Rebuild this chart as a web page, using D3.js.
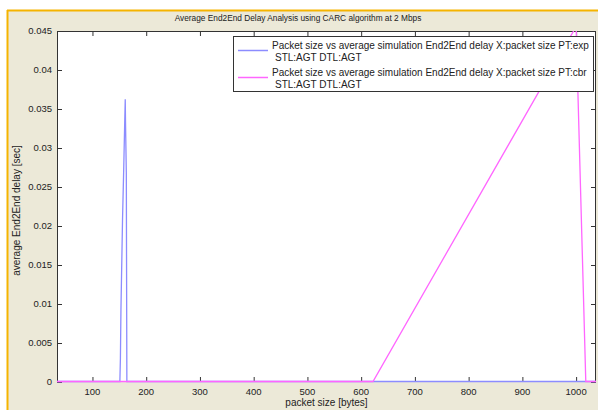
<!DOCTYPE html>
<html>
<head>
    <title>Average End2End Delay Analysis</title>
    <script src="https://d3js.org/d3.v7.min.js"></script>
    <style>
        body { margin: 0; background: #fff; }
        text { font-family: "Liberation Sans", Arial, sans-serif; }
    </style>
</head>
<body>
    <svg width="598" height="410"></svg>
    <script>
        // packet size [bytes] vs delay [sec]
        const packetSizeExp = [34, 151, 152, 153, 156, 158, 160, 161, 161.5, 163, 164, 1037];
        const delayExp      = [0, 0, 0.003, 0.0092, 0.021, 0.0268, 0.0332, 0.0362, 0.0332, 0.0268, 0, 0];

        const packetSizeCbr = [34, 622, 1000, 1018, 1037];
        const delayCbr      = [0, 0, 0.0455, 0, 0];

        const xTicks = [100, 200, 300, 400, 500, 600, 700, 800, 900, 1000];
        const yTicks = [0, 0.005, 0.01, 0.015, 0.02, 0.025, 0.03, 0.035, 0.04, 0.045];

        const legendLabels = [
            ["Packet size vs average simulation End2End delay X:packet size PT:exp", "STL:AGT DTL:AGT"],
            ["Packet size vs average simulation End2End delay X:packet size PT:cbr", "STL:AGT DTL:AGT"]
        ];
        const colors = ["#8c8cff", "#ff66ff"];

        const svg = d3.select("svg");
        const pLeft = 57, pRight = 596, pTop = 31, pBottom = 382;

        // figure window background + orange border
        svg.append("rect").attr("x", 8).attr("y", 11).attr("width", 590).attr("height", 399).attr("fill", "#ece9d8");
        svg.append("line").attr("x1", 7.5).attr("x2", 7.5).attr("y1", 10).attr("y2", 410)
           .attr("stroke", "#f5b400").attr("stroke-width", 2);
        svg.append("line").attr("x1", 7).attr("x2", 598).attr("y1", 10.5).attr("y2", 10.5)
           .attr("stroke", "#f5b400").attr("stroke-width", 2);

        const x = d3.scaleLinear().domain([34, 1037]).range([pLeft, pRight]);
        const y = d3.scaleLinear().domain([0, 0.045]).range([pBottom, pTop]);

        svg.append("rect").attr("x", pLeft).attr("y", pTop)
           .attr("width", pRight - pLeft).attr("height", pBottom - pTop).attr("fill", "#fff");

        // clip slightly below the x axis so the zero lines sit on top of it
        svg.append("clipPath").attr("id", "clip").append("rect")
           .attr("x", pLeft).attr("y", pTop).attr("width", pRight - pLeft).attr("height", pBottom - pTop + 2);

        // ticks pointing inwards, box on
        const tickLen = 5;
        svg.append("g").attr("transform", `translate(0,${pBottom})`)
           .call(d3.axisTop(x).tickValues(xTicks).tickSize(tickLen).tickFormat(""))
           .call(g => g.select(".domain").remove());
        svg.append("g").attr("transform", `translate(0,${pTop})`)
           .call(d3.axisBottom(x).tickValues(xTicks).tickSize(tickLen).tickFormat(""))
           .call(g => g.select(".domain").remove());
        svg.append("g").attr("transform", `translate(${pLeft},0)`)
           .call(d3.axisRight(y).tickValues(yTicks).tickSize(tickLen).tickFormat(""))
           .call(g => g.select(".domain").remove());
        svg.append("g").attr("transform", `translate(${pRight},0)`)
           .call(d3.axisLeft(y).tickValues(yTicks).tickSize(tickLen).tickFormat(""))
           .call(g => g.select(".domain").remove());
        svg.selectAll(".tick line").attr("stroke", "#333");

        // box
        svg.append("rect").attr("x", pLeft + 0.5).attr("y", pTop + 0.5)
           .attr("width", pRight - pLeft - 1).attr("height", pBottom - pTop - 1)
           .attr("fill", "none").attr("stroke", "#333");

        // tick labels
        svg.append("g").selectAll("text").data(xTicks).enter().append("text")
           .attr("x", d => x(d)).attr("y", pBottom + 13)
           .attr("text-anchor", "middle").attr("font-size", 9.5).attr("fill", "#222")
           .text(d => d);
        svg.append("g").selectAll("text").data(yTicks).enter().append("text")
           .attr("x", pLeft - 5).attr("y", d => y(d) + 3)
           .attr("text-anchor", "end").attr("font-size", 9.5).attr("fill", "#222")
           .text(d => d);

        // series
        const line = d3.line().x(d => x(d[0])).y(d => y(d[1]) - 0.5);
        const plot = svg.append("g").attr("clip-path", "url(#clip)");
        plot.append("path").datum(packetSizeExp.map((p, i) => [p, delayExp[i]]))
            .attr("d", line).attr("fill", "none").attr("stroke", colors[0]).attr("stroke-width", 1.3);
        plot.append("path").datum(packetSizeCbr.map((p, i) => [p, delayCbr[i]]))
            .attr("d", line).attr("fill", "none").attr("stroke", colors[1]).attr("stroke-width", 1.3);

        // legend
        const lg = svg.append("g");
        lg.append("rect").attr("x", 233.5).attr("y", 36.5).attr("width", 360).attr("height", 55)
          .attr("fill", "#fff").attr("stroke", "#333");
        legendLabels.forEach((lines, i) => {
            const y0 = 49 + i * 27;
            lg.append("line").attr("x1", 238).attr("x2", 268).attr("y1", y0 + 1.5).attr("y2", y0 + 1.5)
              .attr("stroke", colors[i]).attr("stroke-width", 1.5);
            lg.append("text").attr("x", 272).attr("y", y0).attr("font-size", 10).attr("fill", "#222").text(lines[0]);
            lg.append("text").attr("x", 275).attr("y", y0 + 12).attr("font-size", 10).attr("fill", "#222").text(lines[1]);
        });

        // title and axis labels
        svg.append("text").attr("x", 298).attr("y", 21).attr("text-anchor", "middle")
           .attr("font-size", 8.3).attr("fill", "#222")
           .text("Average End2End Delay Analysis using CARC algorithm at 2 Mbps");
        svg.append("text").attr("x", (pLeft + pRight) / 2).attr("y", 406).attr("text-anchor", "middle")
           .attr("font-size", 10).attr("fill", "#222").text("packet size [bytes]");
        svg.append("text").attr("transform", `translate(20,${(pTop + pBottom) / 2 + 4}) rotate(-90)`)
           .attr("text-anchor", "middle").attr("font-size", 10).attr("fill", "#222")
           .text("average End2End delay [sec]");
    </script>
</body>
</html>
